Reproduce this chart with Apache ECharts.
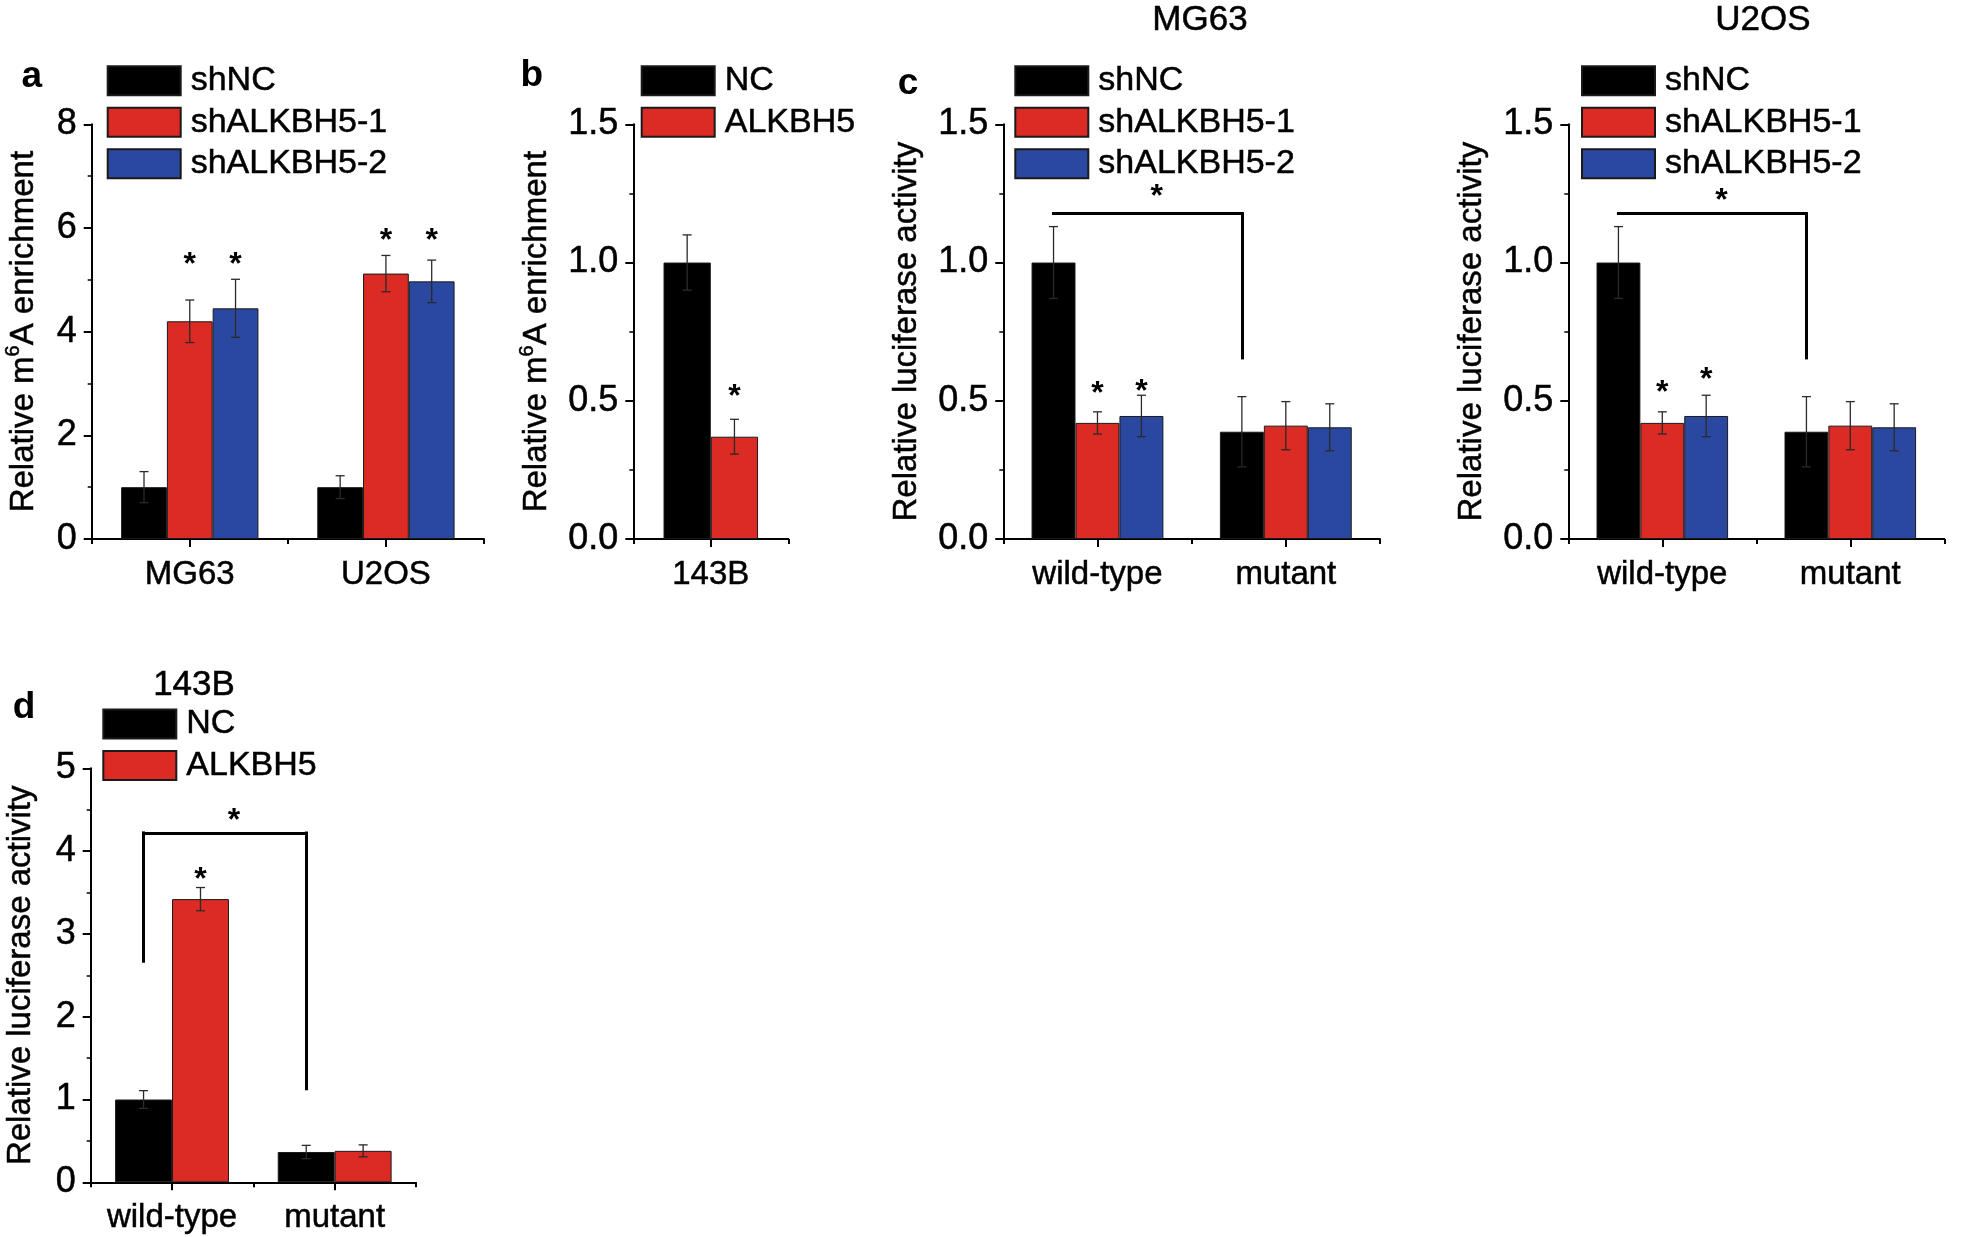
<!DOCTYPE html>
<html><head><meta charset="utf-8">
<script src="https://cdn.jsdelivr.net/npm/echarts@6/dist/echarts.min.js"></script>
<style>html,body{margin:0;padding:0;background:#fff;}#chart{width:1961px;height:1237px;}</style>
</head><body><div id="chart"></div>
<script>
// ---------------- DATA ----------------
// Panel a : Relative m6A enrichment
const catsA = ['MG63', 'U2OS'];
const aShNC = [1.00, 1.00];
const aShNCErr = [0.30, 0.22];
const aSh1 = [4.20, 5.12];
const aSh1Err = [0.41, 0.35];
const aSh2 = [4.45, 4.97];
const aSh2Err = [0.56, 0.41];
const aSh1Star = [5.42, 5.89];
const aSh2Star = [5.42, 5.89];
const yTicksA = [0, 2, 4, 6, 8];

// Panel b : Relative m6A enrichment, 143B
const catsB = ['143B'];
const bNC = [1.00];
const bNCErr = [0.10];
const bALK = [0.37];
const bALKErr = [0.063];
const bALKStar = [0.54];
const yTicksB = [0, 0.5, 1.0, 1.5];

// Panel c : Relative luciferase activity (MG63, U2OS)
const catsC = ['wild-type', 'mutant'];
const cMgShNC = [1.00, 0.388];
const cMgShNCErr = [0.13, 0.127];
const cMgSh1 = [0.42, 0.41];
const cMgSh1Err = [0.04, 0.087];
const cMgSh2 = [0.445, 0.404];
const cMgSh2Err = [0.075, 0.085];
const cMgSh1Star = [0.548, null];
const cMgSh2Star = [0.558, null];
const cMgBracket = [1.177, 0.655];   // [bar height, right drop end]

const cUShNC = [1.00, 0.388];
const cUShNCErr = [0.13, 0.127];
const cUSh1 = [0.42, 0.41];
const cUSh1Err = [0.04, 0.087];
const cUSh2 = [0.445, 0.404];
const cUSh2Err = [0.075, 0.085];
const cUSh1Star = [0.554, null];
const cUSh2Star = [0.60, null];
const cUBracket = [1.177, 0.655];
const yTicksC = [0, 0.5, 1.0, 1.5];

// Panel d : Relative luciferase activity, 143B
const catsD = ['wild-type', 'mutant'];
const dNC = [1.00, 0.366];
const dNCErr = [0.107, 0.08];
const dALK = [3.42, 0.38];
const dALKErr = [0.14, 0.072];
const dALKStar = [3.735, null];
const dBracket = [4.22, 2.67, 1.13];  // [bar height, left drop end, right drop end]
const yTicksD = [0, 1, 2, 3, 4, 5];

// ---------------- STYLE ----------------
const FF = "'Liberation Sans', Arial, Helvetica, sans-serif";
const BLACK = '#000000', RED = '#DC2A24', BLUE = '#2B48A0';
const EDGE = '#1a1a1a';
const TB = {textBorderColor: '#000', textBorderWidth: 0.5};

const grids = [
  {left: 91.7,   top: 124.3, width: 392.3, height: 414.7},  // a
  {left: 633.3,  top: 124.3, width: 155,   height: 414.7},  // b
  {left: 1003.3, top: 124.3, width: 376.7, height: 414.7},  // c MG63
  {left: 1568.3, top: 124.3, width: 376,   height: 414.7},  // c U2OS
  {left: 90.7,   top: 768.3, width: 325.3, height: 414}     // d
].map(g => Object.assign({outerBoundsMode: 'none', containLabel: false}, g));

function xAxes(g, cats) {
  return [
    {type: 'category', gridIndex: g, data: cats, boundaryGap: true, position: 'bottom',
     axisLine: {show: true, onZero: false, lineStyle: {color: '#000', width: 2}},
     axisTick: {show: true, alignWithLabel: true, length: 8, lineStyle: {color: '#000', width: 2}},
     axisLabel: Object.assign({fontSize: 33, color: '#000', fontFamily: FF, margin: 19, interval: 0}, TB),
     splitLine: {show: false}},
    {type: 'value', gridIndex: g, min: 0, max: cats.length, interval: 1, position: 'bottom',
     axisLine: {show: false}, axisLabel: {show: false}, splitLine: {show: false},
     axisTick: {show: true, length: 5, lineStyle: {color: '#000', width: 2}}}
  ];
}

const richName = {
  n: Object.assign({fontSize: 33, fontFamily: FF, color: '#000', lineHeight: 40, verticalAlign: 'middle'}, TB),
  s: Object.assign({fontSize: 20, fontFamily: FF, color: '#000', lineHeight: 20, verticalAlign: 'top'}, TB)
};

function yAxis(g, ticks, decimals, name, nameGap, rich) {
  return {
    type: 'value', gridIndex: g, min: ticks[0], max: ticks[ticks.length - 1], interval: ticks[1] - ticks[0],
    axisLine: {show: true, onZero: false, lineStyle: {color: '#000', width: 2}},
    axisTick: {show: true, inside: false, length: 8, lineStyle: {color: '#000', width: 2}},
    minorTick: {show: true, splitNumber: 2, length: 4, lineStyle: {color: '#000', width: 1.5}},
    splitLine: {show: false}, minorSplitLine: {show: false},
    axisLabel: Object.assign({fontSize: 36, color: '#000', fontFamily: FF, margin: 15,
                formatter: v => v.toFixed(decimals)}, TB),
    name: name, nameLocation: 'middle', nameGap: nameGap, nameRotate: 90, nameMoveOverlap: false,
    nameTextStyle: rich ? {rich: richName}
                        : Object.assign({fontSize: 33, fontFamily: FF, color: '#000', lineHeight: 38}, TB)
  };
}

function starPoints(cats, stars) {
  return {
    silent: true, animation: false, symbol: 'rect', symbolSize: 1,
    itemStyle: {color: 'rgba(0,0,0,0)'},
    label: {show: true, position: 'inside', formatter: '*', fontSize: 32, fontWeight: 'bold',
            color: '#000', fontFamily: FF, offset: [0, 7]},
    data: stars.map((y, i) => (y == null ? null : {coord: [cats[i], y]})).filter(Boolean)
  };
}

function barSeries(g, name, vals, color, gap, cats, stars) {
  const s = {
    type: 'bar', name: name, xAxisIndex: 2 * g, yAxisIndex: g, data: vals,
    barGap: '0%', barCategoryGap: gap,
    itemStyle: {color: color, borderColor: EDGE, borderWidth: 1},
    emphasis: {disabled: true}, animation: false, z: 2
  };
  if (stars) s.markPoint = starPoints(cats, stars);
  return s;
}

function errSeries(g, vals, errs, k, n, gapPct) {
  return {
    type: 'custom', xAxisIndex: 2 * g, yAxisIndex: g, z: 5, silent: true, animation: false,
    data: vals.map((v, i) => [i, v, errs[i]]),
    encode: {x: 0, y: 1},
    renderItem: function (params, api) {
      const ci = api.value(0), v = api.value(1), e = api.value(2);
      const base = api.coord([ci, v]);
      const band = api.size([1, 0])[0];
      const group = band * (1 - gapPct);
      const bw = group / n;
      const x = base[0] - group / 2 + bw * (k + 0.5);
      const yt = api.coord([ci, v + e])[1];
      const yb = api.coord([ci, v - e])[1];
      const cw = 4.5;
      const st = {stroke: '#2a2a2a', lineWidth: 1.3};
      return {type: 'group', children: [
        {type: 'line', shape: {x1: x, y1: yt, x2: x, y2: yb}, style: st},
        {type: 'line', shape: {x1: x - cw, y1: yt, x2: x + cw, y2: yt}, style: st},
        {type: 'line', shape: {x1: x - cw, y1: yb, x2: x + cw, y2: yb}, style: st}
      ]};
    }
  };
}

function bracketLines(cats, top, leftDrop, rightDrop, starDist, starOffset) {
  const data = [
    [{coord: [cats[0], top],
      label: {show: true, position: 'middle', formatter: '*', fontSize: 32, fontWeight: 'bold',
              color: '#000', fontFamily: FF, distance: starDist, offset: starOffset}},
     {coord: [cats[1], top]}],
    [{coord: [cats[1], top]}, {coord: [cats[1], rightDrop]}]
  ];
  if (leftDrop != null) data.push([{coord: [cats[0], top]}, {coord: [cats[0], leftDrop]}]);
  return {
    silent: true, animation: false, symbol: ['none', 'none'],
    lineStyle: {color: '#000', width: 3, type: 'solid', cap: 'square'},
    label: {show: false}, emphasis: {disabled: true},
    data: data
  };
}

function legend(names, left, top) {
  return {
    data: names, left: left, top: top, orient: 'vertical', padding: 0,
    itemWidth: 73, itemHeight: 29, itemGap: 7, selectedMode: false, icon: 'rect',
    textStyle: Object.assign({fontSize: 34, color: '#000', fontFamily: FF, padding: [0, 0, 0, 5]}, TB)
  };
}

const shNames = ['shNC', 'shALKBH5-1', 'shALKBH5-2'];
const ncNames = ['NC', 'ALKBH5'];

// ---------- series ----------
const series = [];
// a
series.push(barSeries(0, 'shNC', aShNC, BLACK, '30%', catsA, null));
series.push(barSeries(0, 'shALKBH5-1', aSh1, RED, '30%', catsA, aSh1Star));
series.push(barSeries(0, 'shALKBH5-2', aSh2, BLUE, '30%', catsA, aSh2Star));
series.push(errSeries(0, aShNC, aShNCErr, 0, 3, 0.30));
series.push(errSeries(0, aSh1, aSh1Err, 1, 3, 0.30));
series.push(errSeries(0, aSh2, aSh2Err, 2, 3, 0.30));
// b
series.push(barSeries(1, 'NC', bNC, BLACK, '39%', catsB, null));
series.push(barSeries(1, 'ALKBH5', bALK, RED, '39%', catsB, bALKStar));
series.push(errSeries(1, bNC, bNCErr, 0, 2, 0.39));
series.push(errSeries(1, bALK, bALKErr, 1, 2, 0.39));
// c MG63
const cMg0 = barSeries(2, 'shNC', cMgShNC, BLACK, '30%', catsC, null);
cMg0.markLine = bracketLines(catsC, cMgBracket[0], null, cMgBracket[1], 0, [9, 0]);
series.push(cMg0);
series.push(barSeries(2, 'shALKBH5-1', cMgSh1, RED, '30%', catsC, cMgSh1Star));
series.push(barSeries(2, 'shALKBH5-2', cMgSh2, BLUE, '30%', catsC, cMgSh2Star));
series.push(errSeries(2, cMgShNC, cMgShNCErr, 0, 3, 0.30));
series.push(errSeries(2, cMgSh1, cMgSh1Err, 1, 3, 0.30));
series.push(errSeries(2, cMgSh2, cMgSh2Err, 2, 3, 0.30));
// c U2OS
const cU0 = barSeries(3, 'shNC', cUShNC, BLACK, '30%', catsC, null);
cU0.markLine = bracketLines(catsC, cUBracket[0], null, cUBracket[1], 0, [9, 4]);
series.push(cU0);
series.push(barSeries(3, 'shALKBH5-1', cUSh1, RED, '30%', catsC, cUSh1Star));
series.push(barSeries(3, 'shALKBH5-2', cUSh2, BLUE, '30%', catsC, cUSh2Star));
series.push(errSeries(3, cUShNC, cUShNCErr, 0, 3, 0.30));
series.push(errSeries(3, cUSh1, cUSh1Err, 1, 3, 0.30));
series.push(errSeries(3, cUSh2, cUSh2Err, 2, 3, 0.30));
// d
const d0 = barSeries(4, 'NC', dNC, BLACK, '30%', catsD, null);
d0.markLine = bracketLines(catsD, dBracket[0], dBracket[1], dBracket[2], 0, [9, 4]);
series.push(d0);
series.push(barSeries(4, 'ALKBH5', dALK, RED, '30%', catsD, dALKStar));
series.push(errSeries(4, dNC, dNCErr, 0, 2, 0.30));
series.push(errSeries(4, dALK, dALKErr, 1, 2, 0.30));

function gtext(text, x, y, font, tbw) {
  return {type: 'text', x: x, y: y, silent: true,
          style: {text: text, font: font, fill: '#000', align: 'center', verticalAlign: 'middle',
                  textAlign: 'center', textVerticalAlign: 'middle',
                  stroke: tbw ? '#000' : null, lineWidth: tbw || 0}};
}

const option = {
  animation: false,
  backgroundColor: '#ffffff',
  grid: grids,
  xAxis: [].concat(xAxes(0, catsA), xAxes(1, catsB), xAxes(2, catsC), xAxes(3, catsC), xAxes(4, catsD)),
  yAxis: [
    yAxis(0, yTicksA, 0, '{n|Relative m}{s|6}{n|A enrichment}', 48, true),
    yAxis(1, yTicksB, 1, '{n|Relative m}{s|6}{n|A enrichment}', 76, true),
    yAxis(2, yTicksC, 1, 'Relative luciferase activity', 77, false),
    yAxis(3, yTicksC, 1, 'Relative luciferase activity', 77, false),
    yAxis(4, yTicksD, 0, 'Relative luciferase activity', 51, false)
  ],
  legend: [
    legend(shNames, 106.7, 63.5),
    legend(ncNames, 640.7, 63.5),
    legend(shNames, 1014.3, 63.5),
    legend(shNames, 1581, 63.5),
    legend(ncNames, 102.3, 706.8)
  ],
  graphic: [
    gtext('a', 31.7, 76.6, 'bold 37px ' + FF),
    gtext('b', 531.7, 75.5, 'bold 37px ' + FF),
    gtext('c', 908, 84, 'bold 37px ' + FF),
    gtext('d', 24, 707.5, 'bold 37px ' + FF),
    gtext('MG63', 1200, 20, '35px ' + FF, 0.5),
    gtext('U2OS', 1763, 20, '35px ' + FF, 0.5),
    gtext('143B', 194, 685, '35px ' + FF, 0.5)
  ],
  series: series
};

const chart = echarts.init(document.getElementById('chart'), null, {renderer: 'canvas', width: 1961, height: 1237});
chart.setOption(option);
</script>
</body></html>
